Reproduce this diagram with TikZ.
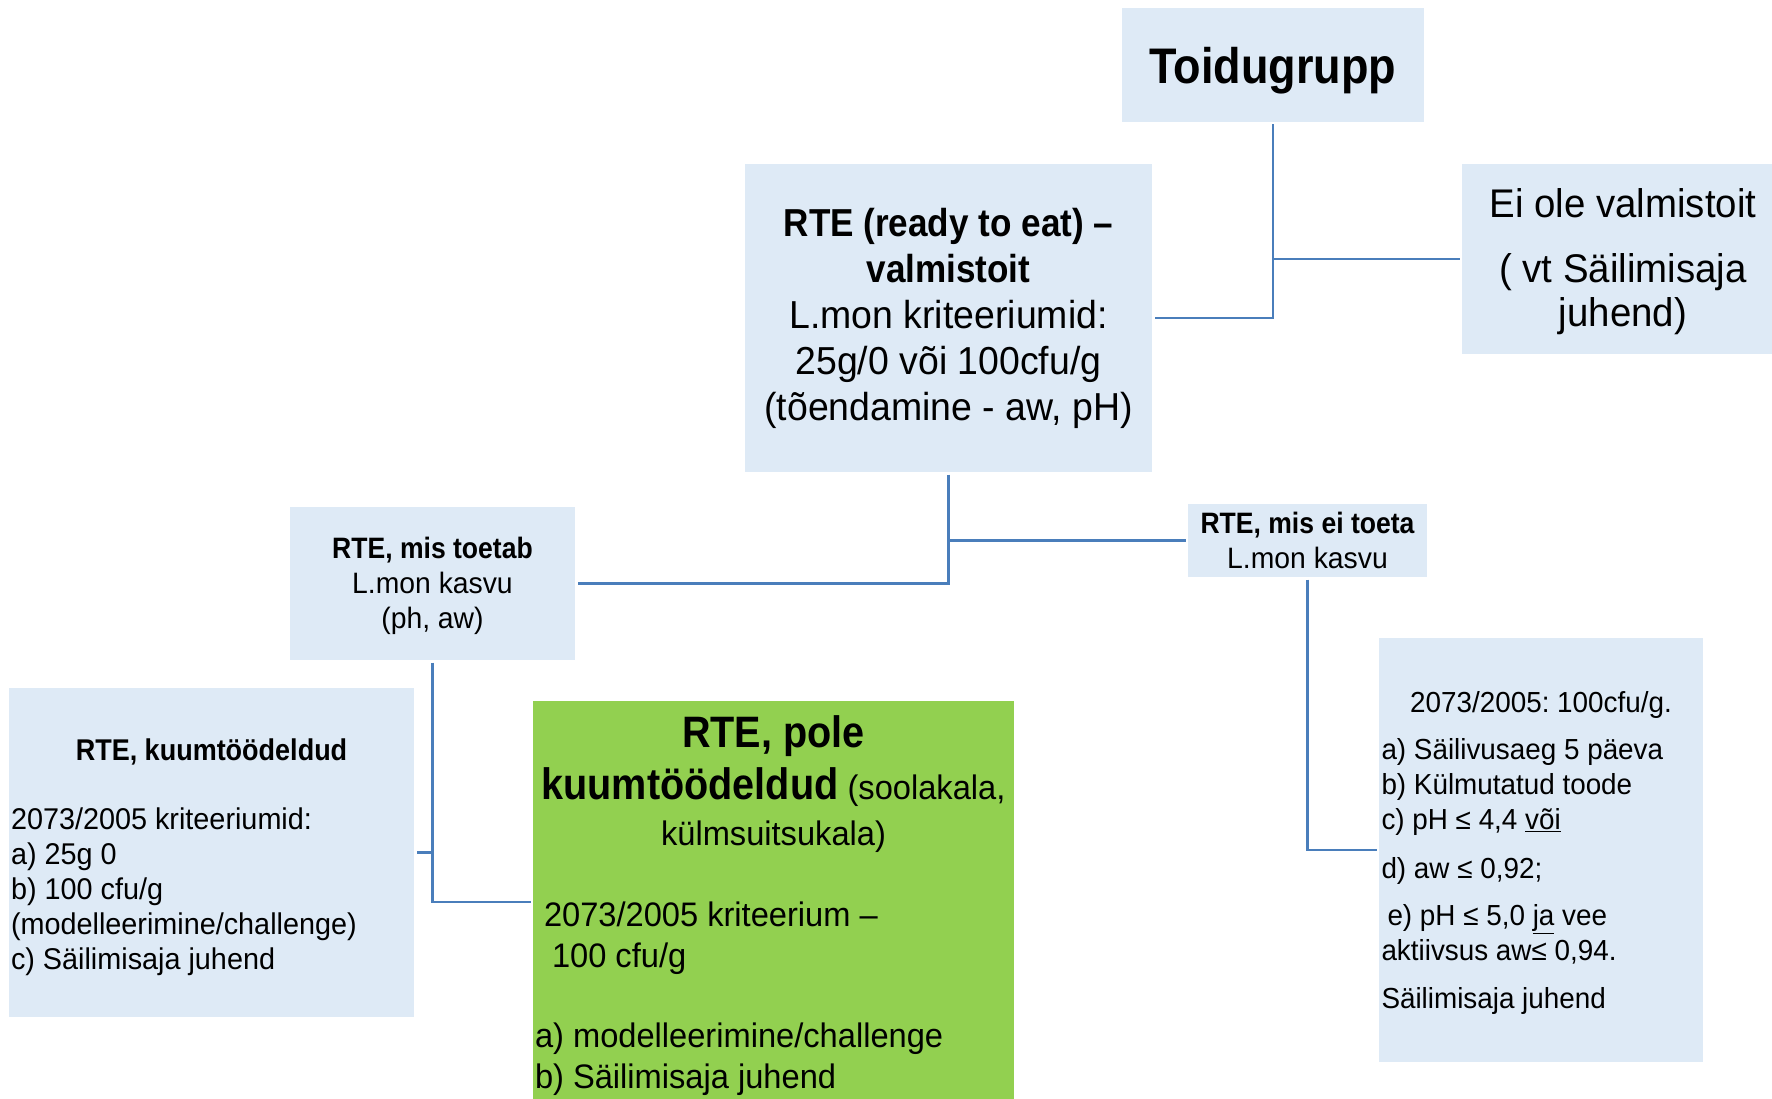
\documentclass[tikz,border=0pt]{standalone}
\usepackage{fontspec}
\setmainfont{Liberation Sans}[FakeStretch=0.96]
\newfontfamily\bdfam{Liberation Sans}[FakeStretch=0.9]
\newcommand\bft[1]{{\bdfam\bfseries #1}}
\definecolor{boxblue}{HTML}{DEEAF6}
\definecolor{boxgreen}{HTML}{92D050}
\definecolor{linecol}{HTML}{4A7EBB}
\frenchspacing
\tikzset{
  box/.style={fill=boxblue, draw=none, inner sep=2pt, outer sep=2.5pt,
    execute at begin node={\lineskiplimit=-100pt\relax\frenchspacing}},
  conn/.style={draw=linecol, line width=2.5pt},
}
\begin{document}
\begin{tikzpicture}[x=1pt,y=-1pt]
\useasboundingbox (0,0) rectangle (1772,1099);

\node[box, minimum width=302pt, minimum height=114pt, text depth=0pt, font=\fontsize{50}{60}\selectfont] (toid) at (1273,65) {\bft{Toidugrupp}};

\node[box, minimum width=407pt, minimum height=308pt, align=center, font=\fontsize{39}{46}\selectfont] (rte) at (948.5,318)
 {\bft{RTE (ready to eat) –}\\ \bft{valmistoit}\\ L.mon kriteeriumid:\\ 25g/0 või 100cfu/g\\ (tõendamine - aw, pH)};

\node[box, minimum width=322pt, minimum height=190pt, text width=318pt, align=flush center, font=\fontsize{40}{44}\selectfont] (eiole) at (1623,259)
 {\rule{0pt}{35pt}Ei ole valmistoit\\[21pt] ( vt Säilimisaja\\ juhend)};

\node[box, minimum width=285pt, minimum height=153pt, text width=281pt, align=flush center, font=\fontsize{29.5}{35}\selectfont] (toetab) at (432.5,583.5)
 {\rule{0pt}{27pt}\bft{RTE, mis toetab}\\ L.mon kasvu\\ (ph, aw)};

\node[box, minimum width=239pt, minimum height=73pt, align=center, font=\fontsize{29.5}{35}\selectfont] (eitoeta) at (1307.5,540.5)
 {\bft{RTE, mis ei toeta}\\ L.mon kasvu};

\node[box, minimum width=405pt, minimum height=329pt, text width=401pt, align=flush left, font=\fontsize{30}{35}\selectfont] (kuum) at (211.5,852.5)
 {\centerline{\rule{0pt}{31pt}\bft{RTE,\ kuumtöödeldud}}\par\vspace{34pt}%
  2073/2005 kriteeriumid:\\ a) 25g 0\\ b) 100 cfu/g\\ (modelleerimine/challenge)\\ c) Säilimisaja juhend};

\node[box, fill=boxgreen, minimum width=481pt, minimum height=402pt, text width=477pt, align=flush left, font=\fontsize{34}{41}\selectfont] (green) at (773.5,902)
 {\centerline{\rule{0pt}{39pt}\fontsize{44}{52}\selectfont\bft{RTE, pole}}\par\vspace{11pt}%
  \centerline{\bft{\fontsize{44}{52}\selectfont kuumtöödeldud} (soolakala,}\par\vspace{5pt}%
  \centerline{külmsuitsukala)}\par\vspace{40pt}%
  \hspace*{9pt}2073/2005 kriteerium –\\ \hspace*{17pt}100 cfu/g\\[39pt] a) modelleerimine/challenge\\ b) Säilimisaja juhend};

\node[box, minimum width=324pt, minimum height=424pt, text width=319pt, align=flush left, font=\fontsize{29}{35}\selectfont] (right) at (1541,850)
 {\centerline{\rule{0pt}{27pt}2073/2005: 100cfu/g.}\par\vspace{12pt}%
  a) Säilivusaeg 5 päeva\\ b) Külmutatud toode\\ c) pH ≤ 4,4 \underline{või}\\[14pt] d) aw ≤ 0,92;\\[12pt] \hspace*{6pt}e) pH ≤ 5,0 \underline{ja} vee\\ aktiivsus aw≤ 0,94.\\[13pt] Säilimisaja juhend};

\draw[conn] (toid.south) |- (rte.east);
\draw[conn] (toid.south |- eiole.west) -- (eiole.west);
\draw[conn] (rte.south) |- (toetab.east);
\draw[conn] (rte.south |- eitoeta.west) -- (eitoeta.west);
\draw[conn] (toetab.south) |- (green.west);
\draw[conn] (toetab.south |- kuum.east) -- (kuum.east);
\draw[conn] (eitoeta.south) |- (right.west);
\end{tikzpicture}
\end{document}
